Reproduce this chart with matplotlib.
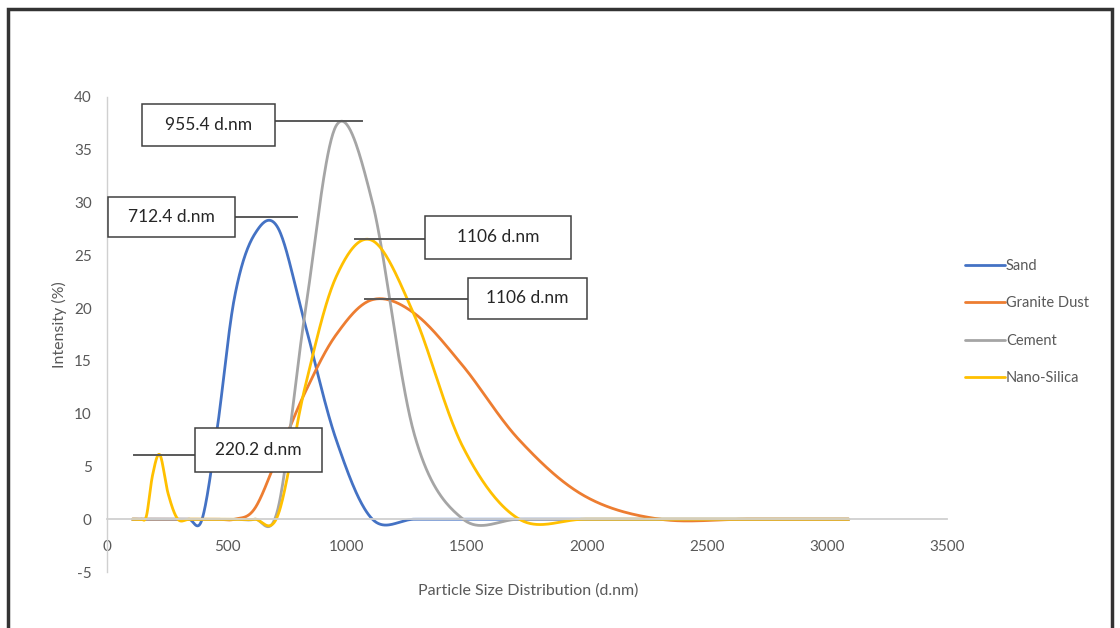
import numpy as np
import matplotlib.pyplot as plt
from matplotlib.patches import Rectangle

plt.rcParams['font.family'] = ['Lato', 'DejaVu Sans']
plt.rcParams['axes.unicode_minus'] = False

# size classes (d.nm) and intensity (%)
sizes = [105.7, 122.4, 141.8, 164.2, 190.1, 220.2, 255.0, 295.3, 342.0, 396.1,
         458.7, 531.2, 615.1, 712.4, 825.0, 955.4, 1106, 1281, 1484, 1718,
         1990, 2305, 2669, 3091]
sand = [0, 0, 0, 0, 0, 0, 0, 0, 0, 0,
        8.5, 21, 27, 27.6, 18.5, 7.5, 0, 0, 0, 0,
        0, 0, 0, 0]
granite = [0, 0, 0, 0, 0, 0, 0, 0, 0, 0,
           0, 0, 1, 6, 12, 17.5, 20.8, 19.5, 14.5, 7.5,
           2.2, 0, 0, 0]
cement = [0, 0, 0, 0, 0, 0, 0, 0, 0, 0,
          0, 0, 0, 1.0, 19.5, 37.3, 30, 8, 0, 0,
          0, 0, 0, 0]
nano = [0, 0, 0, 0.3, 4.2, 6.1, 2.4, 0, 0, 0,
        0, 0, 0, 0.4, 12.5, 23, 26.4, 19.3, 6.8, 0,
        0, 0, 0, 0]

series = [('Sand', sand, '#4472C4'),
          ('Granite Dust', granite, '#ED7D31'),
          ('Cement', cement, '#A5A5A5'),
          ('Nano-Silica', nano, '#FFC000')]

# peak callouts: text, box (x0, y0, w, h), leader line (x_from, x_to, y)
callouts = [('955.4 d.nm', (146, 35.4, 554, 3.9), (700, 1062, 37.7)),
            ('712.4 d.nm', (4, 26.7, 529, 3.8), (533, 792, 28.6)),
            ('1106 d.nm', (1325, 24.7, 608, 4.0), (1033, 1325, 26.5)),
            ('1106 d.nm', (1504, 19.0, 496, 3.9), (1075, 1504, 20.9)),
            ('220.2 d.nm', (367, 4.5, 529, 4.1), (112, 367, 6.06))]


def smooth(x, y, n=40):
    # excel-like smoothed line: bezier through points, catmull-rom handles
    pts = np.column_stack([x, y]).astype(float)
    p = np.vstack([pts[0], pts, pts[-1]])
    t = np.linspace(0, 1, n)[:, None]
    out = []
    for i in range(1, len(p) - 2):
        p0, p1, p2, p3 = p[i - 1], p[i], p[i + 1], p[i + 2]
        c1 = p1 + (p2 - p0) / 6
        c2 = p2 - (p3 - p1) / 6
        out.append((1 - t) ** 3 * p1 + 3 * (1 - t) ** 2 * t * c1
                   + 3 * (1 - t) * t ** 2 * c2 + t ** 3 * p2)
    out = np.vstack(out)
    return out[:, 0], out[:, 1]


fig = plt.figure(figsize=(11.2, 6.28), dpi=100)
ax = fig.add_axes([107 / 1120, 1 - 572 / 628, 840 / 1120, 475 / 628])

for name, vals, col in series:
    xs, ys = smooth(sizes, vals)
    ax.plot(xs, ys, color=col, lw=2.0, label=name, solid_capstyle='round')

for txt, (bx, by, bw, bh), (lx0, lx1, ly) in callouts:
    ax.plot([lx0, lx1], [ly, ly], color='#595959', lw=1.4, zorder=4)
    ax.add_patch(Rectangle((bx, by), bw, bh, facecolor='white',
                           edgecolor='#404040', lw=1.1, zorder=5))
    ax.text(bx + bw / 2, by + bh / 2, txt, ha='center', va='center',
            fontsize=12.5, color='#262626', zorder=6)

ax.set_xlim(0, 3500)
ax.set_ylim(-5, 40)
ax.set_xticks(np.arange(0, 3501, 500))
ax.set_yticks(np.arange(-5, 41, 5))

for s in ['top', 'right']:
    ax.spines[s].set_visible(False)
ax.spines['bottom'].set_position(('data', 0))
ax.spines['bottom'].set_color('#D0D0D0')
ax.spines['bottom'].set_linewidth(1.3)
ax.spines['left'].set_color('#D0D0D0')
ax.spines['left'].set_linewidth(1.0)
ax.tick_params(axis='both', length=0, labelsize=11, labelcolor='#595959')
ax.tick_params(axis='x', pad=15)
ax.tick_params(axis='y', pad=11)

ax.set_xlabel('Particle Size Distribution (d.nm)', fontsize=11.5, color='#595959')
ax.xaxis.set_label_coords(421 / 840, (572 - 583) / 475)
ax.set_ylabel('Intensity (%)', fontsize=11.5, color='#595959')
ax.yaxis.set_label_coords(-40 / 840, (572 - 325) / 475)

leg = ax.legend(loc='upper left', bbox_to_anchor=(952 / 1120, 1 - 246 / 628),
                bbox_transform=fig.transFigure, frameon=False, fontsize=10.5,
                handlelength=2.7, labelspacing=1.6, handletextpad=0.1)
for t in leg.get_texts():
    t.set_color('#595959')

fig.add_artist(Rectangle((8 / 1120, -0.05), 1104 / 1120, 1 - 9 / 628 + 0.05,
                         transform=fig.transFigure, fill=False, lw=2.5,
                         ec='#333333'))

fig.savefig('out.png', dpi=100)
